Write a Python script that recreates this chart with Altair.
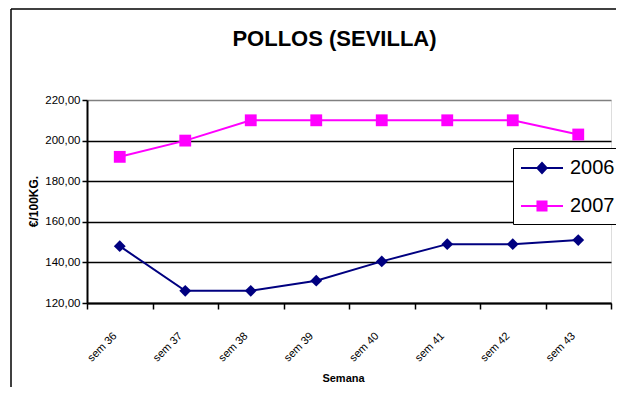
import altair as alt
import pandas as pd

weeks = ["sem 36", "sem 37", "sem 38", "sem 39", "sem 40", "sem 41", "sem 42", "sem 43"]
v2006 = [148, 126, 126, 131, 140.5, 149, 149, 151]
v2007 = [192, 200, 210, 210, 210, 210, 210, 203]
years = ["2006", "2007"]
colors = ["#000080", "#FF00FF"]
markers = ["diamond", "square"]
# legend symbols: a short filled bar (the line) plus the marker
legend_paths = [
    "M-1.75,-0.085H1.75V0.085H-1.75Z M0,-0.54L0.5,0L0,0.54L-0.5,0Z",
    "M-1.75,-0.085H1.75V0.085H-1.75Z M-0.46,-0.46H0.46V0.46H-0.46Z",
]
y_ticks = [120, 140, 160, 180, 200, 220]
title_text = ["POLLOS (SEVILLA)"]

rows = []
for yr, vals in zip(years, [v2006, v2007]):
    for w, v in zip(weeks, vals):
        rows.append({"week": w, "value": v, "year": yr})
df = pd.DataFrame(rows)

FONT = "Liberation Sans"

x_enc = alt.X(
    "week:N", sort=weeks, bandPosition=0.5,
    scale=alt.Scale(type="band", paddingInner=0, paddingOuter=0),
    axis=alt.Axis(
        title="Semana", titleFont=FONT, titleFontSize=11, titleFontWeight="bold",
        titleColor="black", titleX=256, titleY=75, titleBaseline="middle",
        tickBand="extent", grid=False, domainColor="black", domainWidth=2,
        tickColor="black", tickSize=6, tickWidth=1.5,
        labelAngle=315, labelAlign="right", labelBaseline="middle",
        labelPadding=25, labelOffset=-5, labelFont=FONT, labelFontSize=11,
        labelColor="black",
    ),
)
y_enc = alt.Y(
    "value:Q",
    scale=alt.Scale(domain=[120, 220], nice=False, zero=False),
    axis=alt.Axis(
        values=y_ticks,
        labelExpr="replace(format(datum.value, '.2f'), '.', ',')",
        grid=True,
        gridColor={"condition": {"test": "datum.value === 220", "value": "#808080"}, "value": "black"},
        gridWidth=1.5,
        domainColor="black", domainWidth=2,
        tickColor="black", tickSize=5, tickWidth=1.5,
        labelFont=FONT, labelFontSize=11.5, labelColor="black", labelPadding=2,
        title="€/100KG.", titleFont=FONT, titleFontSize=12, titleFontWeight="bold",
        titleColor="black", titleX=-54, titleY=101, titleAlign="center",
        titleBaseline="middle", titleAngle=270,
    ),
)

col_scale = alt.Scale(domain=years, range=colors)

leg = alt.Legend(
    title=None, orient="none", legendX=426, legendY=48,
    fillColor="white", strokeColor="black", padding=8,
    labelFont=FONT, labelFontSize=20, labelColor="black", labelOffset=16,
    symbolSize=576, symbolStrokeWidth=0, symbolOffset=9, rowPadding=16,
    symbolOpacity=1,
)

color_enc = alt.Color("year:N", scale=col_scale, legend=leg)

lines = alt.Chart(df).mark_line(strokeWidth=2).encode(
    x=x_enc, y=y_enc, color=color_enc,
)

pts_layers = []
for yr, mk in zip(years, markers):
    pts_layers.append(
        alt.Chart(df).transform_filter(alt.datum.year == yr)
        .mark_point(filled=True, size=140, opacity=1, shape=mk)
        .encode(x=x_enc, y=y_enc, color=color_enc)
    )

helper = alt.Chart(df).mark_point(filled=True, opacity=0, strokeWidth=0).encode(
    x=x_enc, y=y_enc, color=color_enc,
    shape=alt.Shape("year:N", scale=alt.Scale(domain=years, range=legend_paths), legend=leg),
)

one = pd.DataFrame({"k": [0]})
frame_left = alt.Chart(one).mark_rule(color="black", strokeWidth=1.5).encode(
    x=alt.value(-76), y=alt.value(-91), y2=alt.value(300)
)
frame_top = alt.Chart(one).mark_rule(color="black", strokeWidth=1.5).encode(
    x=alt.value(-76), x2=alt.value(540), y=alt.value(-91)
)

title = alt.Chart(pd.DataFrame({"t": title_text})).mark_text(
    font=FONT, fontSize=22, fontWeight="bold", color="black",
    align="center", baseline="alphabetic",
).encode(text="t:N", x=alt.value(247.5), y=alt.value(-54))

chart = alt.layer(frame_left, frame_top, title, lines, *pts_layers, helper).properties(
    width=524, height=203,
    autosize=alt.AutoSizeParams(type="none"),
    padding={"left": 79, "top": 92, "right": 5, "bottom": 84},
).configure_view(
    fill="#C0C0C0", stroke="#808080", strokeWidth=1.5
).configure(background="white")

chart.save("out.html", embed_options={"renderer": "svg", "actions": False})
